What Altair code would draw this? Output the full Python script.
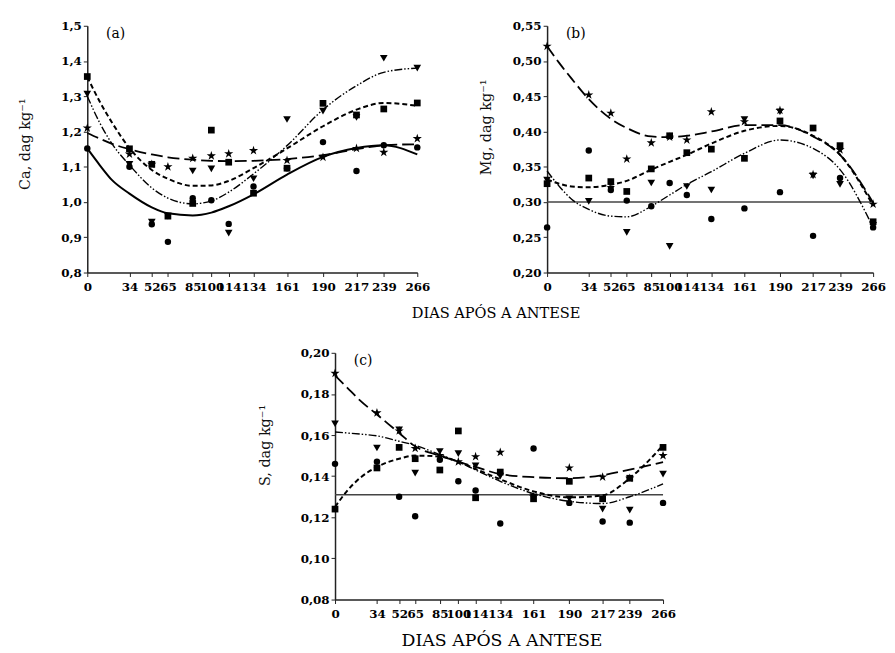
import altair as alt
import pandas as pd

# ---------------- data ----------------
DAYS = [0, 34, 52, 65, 85, 100, 114, 134, 161, 190, 217, 239, 266]
FIT_DAYS = [0, 10, 20, 34, 52, 65, 85, 100, 114, 134, 161, 190, 217, 239, 266]
FLAT_DAYS = [0, 266]

# (a) Ca
CA_CIRCLE = [1.152, 1.100, 0.937, 0.887, 1.011, 1.005, 0.938, 1.044, 1.096, 1.170, 1.088, 1.161, 1.155]
CA_SQUARE = [1.356, 1.151, 1.107, 0.960, 0.996, 1.204, 1.113, 1.025, 1.096, 1.280, 1.247, 1.264, 1.281]
CA_TRIANGLE = [1.306, 1.107, 0.943, 0.960, 1.088, 1.094, 0.912, 1.066, 1.234, 1.258, 1.240, 1.408, 1.380]
CA_STAR = [1.210, 1.136, 1.107, 1.100, 1.124, 1.131, 1.137, 1.146, 1.118, 1.127, 1.152, 1.141, 1.180]
CA_FIT_SOLID = [1.152, 1.105, 1.062, 1.024, 0.985, 0.968, 0.962, 0.970, 0.988, 1.022, 1.078, 1.128, 1.153, 1.161, 1.135]
CA_FIT_SHORT = [1.355, 1.285, 1.225, 1.153, 1.091, 1.066, 1.046, 1.047, 1.060, 1.096, 1.152, 1.215, 1.262, 1.281, 1.273]
CA_FIT_DASHDOT = [1.300, 1.225, 1.165, 1.105, 1.040, 1.011, 0.995, 1.003, 1.028, 1.080, 1.160, 1.262, 1.330, 1.368, 1.380]
CA_FIT_LONG = [1.196, 1.180, 1.165, 1.150, 1.135, 1.127, 1.120, 1.117, 1.116, 1.117, 1.122, 1.133, 1.150, 1.161, 1.164]

# (b) Mg
MG_CIRCLE = [0.264, 0.373, 0.317, 0.302, 0.294, 0.327, 0.310, 0.276, 0.291, 0.314, 0.252, 0.334, 0.264]
MG_SQUARE = [0.326, 0.334, 0.329, 0.315, 0.347, 0.394, 0.370, 0.375, 0.362, 0.415, 0.405, 0.380, 0.272]
MG_TRIANGLE = [0.331, 0.301, 0.318, 0.257, 0.327, 0.237, 0.322, 0.317, 0.417, 0.428, 0.337, 0.325, 0.267]
MG_STAR = [0.521, 0.452, 0.426, 0.361, 0.384, 0.392, 0.388, 0.428, 0.414, 0.430, 0.339, 0.374, 0.297]
MG_FIT_FLAT = [0.300, 0.300]
MG_FIT_SHORT = [0.332, 0.326, 0.322, 0.321, 0.3245, 0.330, 0.346, 0.357, 0.367, 0.383, 0.401, 0.408, 0.394, 0.367, 0.295]
MG_FIT_DASHDOT = [0.344, 0.322, 0.304, 0.2895, 0.280, 0.279, 0.294, 0.310, 0.325, 0.343, 0.369, 0.388, 0.376, 0.346, 0.264]
MG_FIT_LONG = [0.521, 0.497, 0.475, 0.446, 0.418, 0.405, 0.393, 0.392, 0.394, 0.400, 0.409, 0.409, 0.393, 0.367, 0.299]

# (c) S
S_CIRCLE = [0.146, 0.147, 0.130, 0.1205, 0.148, 0.1375, 0.133, 0.117, 0.1535, 0.127, 0.118, 0.1174, 0.127]
S_SQUARE = [0.124, 0.144, 0.154, 0.1485, 0.143, 0.162, 0.1295, 0.142, 0.129, 0.1375, 0.129, 0.139, 0.154]
S_TRIANGLE = [0.1655, 0.1537, 0.1625, 0.1415, 0.152, 0.151, 0.145, 0.140, 0.130, 0.129, 0.124, 0.1235, 0.141]
S_STAR = [0.190, 0.1708, 0.162, 0.1535, 0.150, 0.147, 0.1495, 0.1516, 0.130, 0.144, 0.1396, 0.139, 0.150]
S_FIT_FLAT = [0.131, 0.131]
S_FIT_SHORT = [0.125, 0.133, 0.139, 0.1445, 0.1485, 0.150, 0.1495, 0.147, 0.1435, 0.1385, 0.1326, 0.1297, 0.1307, 0.139, 0.155]
S_FIT_DASHDOT = [0.1615, 0.161, 0.1605, 0.1596, 0.157, 0.155, 0.1505, 0.147, 0.143, 0.1375, 0.1315, 0.1278, 0.1267, 0.130, 0.1363]
S_FIT_LONG = [0.189, 0.183, 0.177, 0.170, 0.161, 0.1545, 0.150, 0.147, 0.1445, 0.141, 0.1395, 0.139, 0.1405, 0.1432, 0.1468]

XTITLE = "DIAS APÓS A ANTESE"

# ---------------- styling ----------------
STAR_PATH = ("M0,-1L0.2245,-0.309L0.9511,-0.309L0.3633,0.118L0.5878,0.809L0,0.382"
             "L-0.5878,0.809L-0.3633,0.118L-0.9511,-0.309L-0.2245,-0.309Z")
SERIF = "DejaVu Serif"
PLOT_H = 249


def make_x(title=None, tx=0, ty=0, tsize=15):
    kw = dict(values=DAYS, labelOverlap=False, labelFlush=False, grid=False,
              tickSize=4, labelPadding=5, domainColor="#222", tickColor="#222",
              domainWidth=1.5, labelFont=SERIF, labelFontWeight="bold",
              labelFontSize=12, labelColor="black")
    if title:
        kw.update(titleX=tx, titleY=ty, titleAlign="center", titleBaseline="alphabetic",
                  titleFont=SERIF, titleFontWeight="normal", titleFontSize=tsize,
                  titleColor="black")
        return alt.X("day:Q", title=title,
                     scale=alt.Scale(domain=[0, 266], nice=False, zero=False),
                     axis=alt.Axis(**kw))
    return alt.X("day:Q", title=None,
                 scale=alt.Scale(domain=[0, 266], nice=False, zero=False),
                 axis=alt.Axis(**kw))


def make_y(dom, ticks, dec, title, tx, ty):
    return alt.Y("v:Q", title=title,
                 scale=alt.Scale(domain=dom, nice=False, zero=False),
                 axis=alt.Axis(values=ticks, grid=False, tickSize=4, labelPadding=2,
                               labelExpr=f"replace(format(datum.value, '.{dec}f'), '.', ',')",
                               domainColor="#222", tickColor="#222", domainWidth=1.5,
                               labelFont=SERIF, labelFontWeight="bold", labelFontSize=12,
                               labelColor="black", titleFont=SERIF, titleFontWeight="normal",
                               titleFontSize=14.5, titleColor="#111", titleX=tx, titleY=ty,
                               titleAngle=270, titleAlign="center", titleBaseline="bottom"))


def panel(pts, fits, flat, flat_days, dom, ticks, dec, ytitle, ytx, yty, tag, width, x):
    y = make_y(dom, ticks, dec, ytitle, ytx, yty)
    layers = []
    # fitted curves
    if flat is not None:
        layers.append(alt.Chart(pd.DataFrame({"day": flat_days, "v": flat}))
                      .mark_line(color="#444", strokeWidth=1.6).encode(x=x, y=y))
    solid, short, dashdot, long_ = fits
    if solid is not None:
        layers.append(alt.Chart(pd.DataFrame({"day": FIT_DAYS, "v": solid}))
                      .mark_line(color="black", strokeWidth=2, interpolate="monotone")
                      .encode(x=x, y=y))
    layers.append(alt.Chart(pd.DataFrame({"day": FIT_DAYS, "v": short}))
                  .mark_line(color="black", strokeWidth=2, strokeDash=[5, 3], interpolate="monotone")
                  .encode(x=x, y=y))
    layers.append(alt.Chart(pd.DataFrame({"day": FIT_DAYS, "v": dashdot}))
                  .mark_line(color="black", strokeWidth=1.4, strokeDash=[8, 2, 1.5, 2, 1.5, 2],
                             interpolate="monotone")
                  .encode(x=x, y=y))
    layers.append(alt.Chart(pd.DataFrame({"day": FIT_DAYS, "v": long_}))
                  .mark_line(color="black", strokeWidth=1.8, strokeDash=[12, 5], interpolate="monotone")
                  .encode(x=x, y=y))
    # observed points
    circ, sq, tri, star = pts
    for vals, shape, size in [(star, STAR_PATH, 95), (tri, "triangle-down", 60),
                              (sq, "square", 46), (circ, "circle", 42)]:
        layers.append(alt.Chart(pd.DataFrame({"day": DAYS, "v": vals}))
                      .mark_point(shape=shape, size=size, filled=True, color="black", opacity=1)
                      .encode(x=x, y=y))
    layers.append(alt.Chart(pd.DataFrame({"t": [tag]}))
                  .mark_text(align="left", baseline="middle", font=SERIF, fontSize=14, color="black")
                  .encode(x=alt.value(19), y=alt.value(8.5), text="t:N"))
    return alt.layer(*layers).properties(width=width, height=PLOT_H)


ca = panel((CA_CIRCLE, CA_SQUARE, CA_TRIANGLE, CA_STAR),
           (CA_FIT_SOLID, CA_FIT_SHORT, CA_FIT_DASHDOT, CA_FIT_LONG), None, FLAT_DAYS,
           [0.8, 1.5], [0.8, 0.9, 1.0, 1.1, 1.2, 1.3, 1.4, 1.5], 1,
           "Ca, dag kg⁻¹", -55, 119, "(a)", 333,
           make_x(XTITLE, 412, 45, 14.7))
mg = panel((MG_CIRCLE, MG_SQUARE, MG_TRIANGLE, MG_STAR),
           (None, MG_FIT_SHORT, MG_FIT_DASHDOT, MG_FIT_LONG), MG_FIT_FLAT, FLAT_DAYS,
           [0.20, 0.55], [0.20, 0.25, 0.30, 0.35, 0.40, 0.45, 0.50, 0.55], 2,
           "Mg, dag kg⁻¹", -54, 102, "(b)", 329, make_x())
s = panel((S_CIRCLE, S_SQUARE, S_TRIANGLE, S_STAR),
          (None, S_FIT_SHORT, S_FIT_DASHDOT, S_FIT_LONG), S_FIT_FLAT, FLAT_DAYS,
          [0.08, 0.20], [0.08, 0.10, 0.12, 0.14, 0.16, 0.18, 0.20], 2,
          "S, dag kg⁻¹", -63, 93, "(c)", 331,
          make_x(XTITLE, 168, 46, 17.5))

spacer = (alt.Chart(pd.DataFrame({"day": [0], "v": [0]}))
          .mark_point(opacity=0)
          .encode(x=alt.X("day:Q", axis=None), y=alt.Y("v:Q", axis=None))
          .properties(width=250, height=PLOT_H))

top = alt.hconcat(ca, mg, spacing=131, bounds="flush")
bottom = alt.hconcat(spacer, s, spacing=0, bounds="flush")
# nested rows count as zero-height under "flush", so the spacing is the full
# distance from the top row's plot top to the bottom row's plot top
chart = (alt.vconcat(top, bottom, spacing=330, bounds="flush")
         .properties(padding={"left": 10, "top": 9, "right": 1, "bottom": 2})
         .configure_view(strokeWidth=0))

chart.save("out.html", embed_options={"renderer": "svg", "actions": False})
